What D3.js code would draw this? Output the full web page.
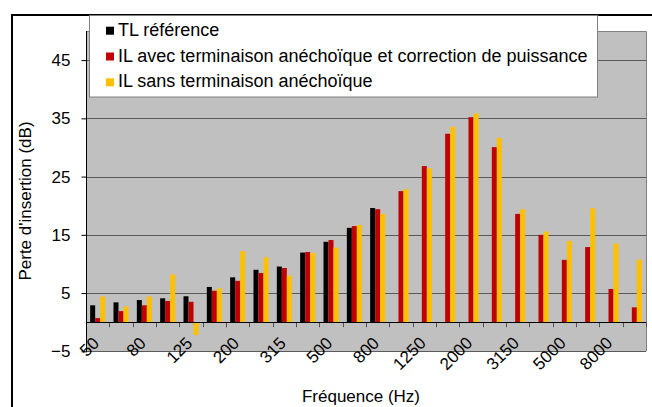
<!DOCTYPE html>
<html>
<head>
<meta charset="utf-8">
<script src="https://cdn.jsdelivr.net/npm/d3@7"></script>
<style>
  body { margin: 0; background: #fff; }
  svg text { font-family: "Liberation Sans", Arial, sans-serif; fill: #000; }
</style>
</head>
<body>
<div id="chart"></div>
<script>
// Data
var categories = ["50", "63", "80", "100", "125", "160", "200", "250", "315", "400", "500", "630",
  "800", "1000", "1250", "1600", "2000", "2500", "3150", "4000", "5000", "6300", "8000", "10000"];
var tlReference = [2.9, 3.4, 3.8, 4.1, 4.45, 6.05, 7.7, 9.0, 9.55, 11.95, 13.8, 16.2, 19.6,
  null, null, null, null, null, null, null, null, null, null, null];
var ilAvecAnechoique = [0.7, 1.9, 2.9, 3.65, 3.5, 5.4, 7.1, 8.45, 9.3, 12.05, 14.1, 16.5, 19.4,
  22.5, 26.8, 32.35, 35.2, 30.05, 18.6, 15.0, 10.7, 12.9, 5.7, 2.55];
var ilSansAnechoique = [4.4, 2.7, 4.4, 8.2, -2.2, 5.8, 12.2, 11.15, 8.0, 11.9, 12.8, 16.7, 18.6,
  22.85, 26.4, 33.55, 35.85, 31.65, 19.4, 15.55, 13.95, 19.55, 13.5, 10.75];
var seriesNames = ["TL référence", "IL avec terminaison anéchoïque et correction de puissance",
  "IL sans terminaison anéchoïque"];
var seriesColors = ["#000000", "#C00000", "#FFC000"];
var xTickLabels = ["50", "80", "125", "200", "315", "500", "800", "1250", "2000", "3150", "5000", "8000"];
var yTicks = [-5, 5, 15, 25, 35, 45];

var series = [tlReference, ilAvecAnechoique, ilSansAnechoique];

// Setup chart
var svgWidth = 652;
var svgHeight = 407;
var plot = { left: 86, right: 646, top: 31, bottom: 351.3 };

var svg = d3.select("#chart")
  .append("svg")
  .attr("width", svgWidth)
  .attr("height", svgHeight);

// outer frame (runs past the right and bottom edges)
svg.append("rect")
  .attr("x", 12).attr("y", 15)
  .attr("width", 700).attr("height", 450)
  .attr("fill", "#fff")
  .attr("stroke", "#000")
  .attr("stroke-width", 2);

// Scales
var x0 = d3.scaleBand()
  .domain(categories)
  .range([plot.left, plot.right])
  .paddingInner(0.357)
  .paddingOuter(0.357 / 2);

var x1 = d3.scaleBand()
  .domain([0, 1, 2])
  .range([0, x0.bandwidth()]);

var y = d3.scaleLinear()
  .domain([-5, 50])
  .range([plot.bottom, plot.top]);

// plot background
svg.append("rect")
  .attr("x", plot.left).attr("y", plot.top)
  .attr("width", plot.right - plot.left)
  .attr("height", plot.bottom - plot.top)
  .attr("fill", "#C0C0C0");

// gridlines
svg.append("g")
  .selectAll("line")
  .data(yTicks)
  .join("line")
  .attr("x1", plot.left).attr("x2", plot.right)
  .attr("y1", d => Math.round(y(d)) + 0.5)
  .attr("y2", d => Math.round(y(d)) + 0.5)
  .attr("stroke", "#5a5a5a")
  .attr("stroke-width", 1);

// plot border (top / right)
svg.append("path")
  .attr("d", `M${plot.left},${plot.top + 0.5}H${plot.right + 0.5}V${plot.bottom}`)
  .attr("fill", "none")
  .attr("stroke", "#808080")
  .attr("stroke-width", 1);

// Bars
var groups = svg.append("g")
  .selectAll("g")
  .data(categories)
  .join("g")
  .attr("transform", d => `translate(${x0(d)},0)`);

groups.selectAll("rect")
  .data((d, i) => series.map((s, k) => ({ k: k, v: s[i] })).filter(e => e.v !== null))
  .join("rect")
  .attr("x", d => x1(d.k))
  .attr("width", x1.bandwidth())
  .attr("y", d => y(Math.max(0, d.v)))
  .attr("height", d => Math.abs(y(d.v) - y(0)))
  .attr("fill", d => seriesColors[d.k]);

// x axis (zero line) with tick marks at category boundaries
var step = x0.step();
svg.append("g")
  .selectAll("line")
  .data(d3.range(categories.length + 1))
  .join("line")
  .attr("x1", i => Math.round(plot.left + i * step) + 0.5)
  .attr("x2", i => Math.round(plot.left + i * step) + 0.5)
  .attr("y1", y(0))
  .attr("y2", y(0) + 5)
  .attr("stroke", "#505050");

svg.append("line")
  .attr("x1", plot.left).attr("x2", plot.right)
  .attr("y1", Math.round(y(0)) + 0.5).attr("y2", Math.round(y(0)) + 0.5)
  .attr("stroke", "#000");

// y axis
var leftAxis = d3.axisLeft(y).tickValues(yTicks).tickSize(5).tickPadding(11);
var yAxis = svg.append("g")
  .attr("transform", `translate(${plot.left + 0.5},0)`)
  .call(leftAxis);
yAxis.select(".domain")
  .attr("stroke", "#000")
  .attr("d", `M0,${plot.top}V${plot.bottom + 1}`);
yAxis.selectAll(".tick line").attr("stroke", "#000");
yAxis.selectAll("text").attr("font-size", 17).attr("fill", "#000")
  .style("font-family", '"Liberation Sans", Arial, sans-serif');

// x tick labels, rotated
svg.append("g")
  .selectAll("text")
  .data(xTickLabels)
  .join("text")
  .attr("transform", d => `translate(${x0(d) + x0.bandwidth() / 2 + 2.5},${y(0) + 22}) rotate(-45)`)
  .attr("text-anchor", "end")
  .attr("font-size", 17)
  .text(d => d);

// axis titles
svg.append("text")
  .attr("x", 361).attr("y", 402)
  .attr("text-anchor", "middle")
  .attr("font-size", 17)
  .text("Fréquence (Hz)");

svg.append("text")
  .attr("transform", "translate(31,201) rotate(-90)")
  .attr("text-anchor", "middle")
  .attr("font-size", 17)
  .text("Perte d'insertion (dB)");

// Legend
var legend = svg.append("g");
legend.append("rect")
  .attr("x", 89.5).attr("y", 15.5)
  .attr("width", 508).attr("height", 81.5)
  .attr("fill", "#fff")
  .attr("stroke", "#808080");

var items = legend.selectAll("g.item")
  .data(seriesNames)
  .join("g")
  .attr("class", "item")
  .attr("transform", (d, i) => `translate(106,${35.7 + i * 25.8})`);

items.append("rect")
  .attr("x", 0).attr("y", -9)
  .attr("width", 8).attr("height", 8)
  .attr("fill", (d, i) => seriesColors[i]);

items.append("text")
  .attr("x", 12).attr("y", 0)
  .attr("font-size", 18)
  .text(d => d);
</script>
</body>
</html>
